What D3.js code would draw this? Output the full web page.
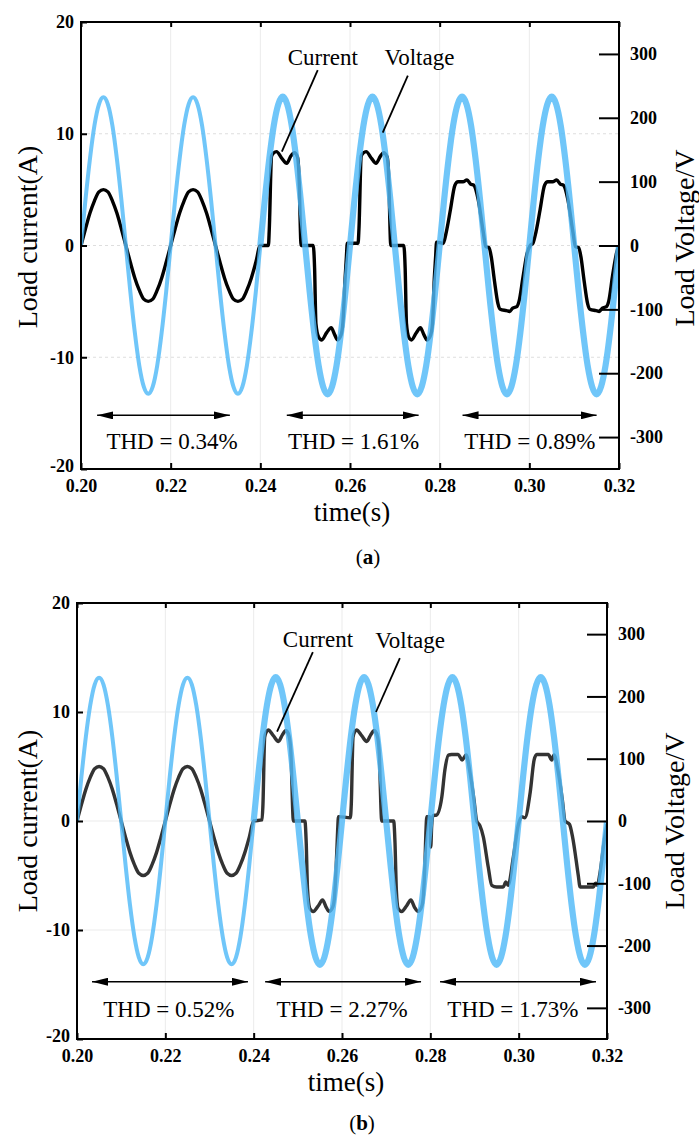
<!DOCTYPE html>
<html>
<head>
<meta charset="utf-8">
<script src="https://cdn.jsdelivr.net/npm/d3@7"></script>
<style>
  html, body { margin: 0; padding: 0; background: #fff; }
  svg { display: block; }
</style>
</head>
<body>
<svg id="chart" width="699" height="1135"></svg>
<script>
// ---------- data ----------
// scope sample grid for the voltage traces: 1 ms steps, 0.200 s .. 0.320 s
const sampleTimes = d3.range(121).map(i => +(0.2 + i * 0.001).toFixed(3));

// load voltage (V), case (a)
const voltageA = [
  0, 72, 136, 188, 221, 232, 221, 188, 136, 72, 0, -72, -136, -188, -221, -232, -221, -188, -136, -72,
  0, 72, 136, 188, 221, 232, 221, 188, 136, 72, 0, -72, -136, -188, -221, -232, -221, -188, -136, -72,
  0, 72, 136, 188, 221, 233, 221, 188, 136, 72, 0, -72, -136, -188, -221, -233, -221, -188, -136, -72,
  0, 72, 136, 188, 221, 233, 221, 188, 136, 72, 0, -72, -136, -188, -221, -233, -221, -188, -136, -72,
  0, 72, 136, 188, 221, 233, 221, 188, 136, 72, 0, -72, -136, -188, -221, -233, -221, -188, -136, -72,
  0, 72, 136, 188, 221, 233, 221, 188, 136, 72, 0, -72, -136, -188, -221, -233, -221, -188, -136, -72,
  0
];

// load voltage (V), case (b)
const voltageB = [
  0, 71, 135, 186, 219, 230, 219, 186, 135, 71, 0, -71, -135, -186, -219, -230, -219, -186, -135, -71,
  0, 71, 135, 186, 219, 230, 219, 186, 135, 71, 0, -71, -135, -186, -219, -230, -219, -186, -135, -71,
  0, 71, 135, 186, 219, 231, 219, 186, 135, 71, 0, -71, -135, -186, -219, -231, -219, -186, -135, -71,
  0, 71, 135, 186, 219, 231, 219, 186, 135, 71, 0, -71, -135, -186, -219, -231, -219, -186, -135, -71,
  0, 71, 135, 186, 219, 231, 219, 186, 135, 71, 0, -71, -135, -186, -219, -231, -219, -186, -135, -71,
  0, 71, 135, 186, 219, 231, 219, 186, 135, 71, 0, -71, -135, -186, -219, -231, -219, -186, -135, -71,
  0
];

// load current (A), case (a): [time s, current A]
const currentA = [
  [0.200, 0], [0.201, 1.5], [0.202, 2.9], [0.203, 4.0], [0.204, 4.8], [0.205, 5.0], [0.206, 4.8], [0.207, 4.0],
  [0.208, 2.9], [0.209, 1.5], [0.210, 0], [0.211, -1.5], [0.212, -2.9], [0.213, -4.0], [0.214, -4.8], [0.215, -5.0],
  [0.216, -4.8], [0.217, -4.0], [0.218, -2.9], [0.219, -1.5], [0.220, 0], [0.221, 1.5], [0.222, 2.9], [0.223, 4.0],
  [0.224, 4.8], [0.225, 5.0], [0.226, 4.8], [0.227, 4.0], [0.228, 2.9], [0.229, 1.5], [0.230, 0], [0.231, -1.5],
  [0.232, -2.9], [0.233, -4.0], [0.234, -4.8], [0.235, -5.0], [0.236, -4.8], [0.237, -4.0], [0.238, -2.9], [0.239, -1.5],
  [0.2400, 0], [0.2418, 0], [0.2420, 1.5], [0.2425, 8.0], [0.2430, 8.3], [0.2436, 8.4], [0.2448, 7.8], [0.2459, 7.35],
  [0.2468, 8.0], [0.2476, 8.3], [0.2483, 7.9], [0.2486, 6.5], [0.2491, 0], [0.2518, 0], [0.2521, -2.0], [0.2524, -7.0],
  [0.2530, -8.2], [0.2537, -8.45], [0.2548, -7.8], [0.2558, -7.35], [0.2566, -8.0], [0.2572, -8.45], [0.2580, -8.0], [0.2584, -7.0],
  [0.2589, -3.0], [0.2592, -1.0], [0.2594, 0.2], [0.2618, 0.2], [0.2620, 1.5], [0.2625, 8.0], [0.2630, 8.3], [0.2636, 8.4],
  [0.2648, 7.8], [0.2658, 7.35], [0.2668, 8.0], [0.2675, 8.3], [0.2683, 7.9], [0.2686, 6.5], [0.2691, 0], [0.2720, 0],
  [0.2723, -2.0], [0.2726, -7.0], [0.2731, -8.2], [0.2737, -8.45], [0.2748, -7.8], [0.2757, -7.35], [0.2765, -8.0], [0.2772, -8.45],
  [0.2780, -8.0], [0.2784, -7.0], [0.2788, -3.0], [0.2791, -1.0], [0.2793, 0.3], [0.2808, 0.2], [0.2815, 1.25], [0.2824, 3.2],
  [0.2834, 5.4], [0.2841, 5.7], [0.2852, 5.7], [0.2861, 5.87], [0.2869, 5.5], [0.2876, 5.4], [0.2886, 4.1], [0.2897, 1.25],
  [0.2903, -0.1], [0.2910, -0.2], [0.2915, -1.0], [0.2922, -3.1], [0.2930, -5.2], [0.2935, -5.7], [0.2949, -5.83], [0.2956, -5.9],
  [0.2963, -5.6], [0.2972, -5.47], [0.2977, -5.0], [0.2986, -2.8], [0.2995, -0.7], [0.3002, 0], [0.3008, 0.2], [0.3015, 1.25],
  [0.3024, 3.2], [0.3034, 5.4], [0.3041, 5.7], [0.3052, 5.7], [0.3061, 5.87], [0.3069, 5.5], [0.3076, 5.4], [0.3086, 4.1],
  [0.3097, 1.25], [0.3103, -0.1], [0.3110, -0.2], [0.3115, -1.0], [0.3122, -3.1], [0.3130, -5.2], [0.3135, -5.7], [0.3149, -5.83],
  [0.3156, -5.9], [0.3163, -5.6], [0.3172, -5.47], [0.3177, -5.0], [0.3186, -2.6], [0.3195, -0.6], [0.3200, 0]
];

// load current (A), case (b): [time s, current A]
const currentB = [
  [0.200, 0], [0.201, 1.5], [0.202, 2.9], [0.203, 4.0], [0.204, 4.8], [0.205, 5.0], [0.206, 4.8], [0.207, 4.0],
  [0.208, 2.9], [0.209, 1.5], [0.210, 0], [0.211, -1.5], [0.212, -2.9], [0.213, -4.0], [0.214, -4.8], [0.215, -5.0],
  [0.216, -4.8], [0.217, -4.0], [0.218, -2.9], [0.219, -1.5], [0.220, 0], [0.221, 1.5], [0.222, 2.9], [0.223, 4.0],
  [0.224, 4.8], [0.225, 5.0], [0.226, 4.8], [0.227, 4.0], [0.228, 2.9], [0.229, 1.5], [0.230, 0], [0.231, -1.5],
  [0.232, -2.9], [0.233, -4.0], [0.234, -4.8], [0.235, -5.0], [0.236, -4.8], [0.237, -4.0], [0.238, -2.9], [0.239, -1.5],
  [0.2400, 0], [0.2419, 0.1], [0.2421, 1.5], [0.2425, 7.7], [0.2429, 8.2], [0.2433, 8.35], [0.2445, 7.8], [0.2456, 7.3],
  [0.2465, 7.9], [0.2473, 8.3], [0.2480, 7.8], [0.2484, 6.5], [0.2490, 0], [0.2516, 0], [0.2519, -2.0], [0.2522, -6.3],
  [0.2527, -8.0], [0.2535, -8.3], [0.2546, -7.8], [0.2556, -7.25], [0.2564, -7.9], [0.2571, -8.3], [0.2579, -7.9], [0.2583, -7.0],
  [0.2588, -3.0], [0.2590, -1.0], [0.2592, 0.4], [0.2619, 0.3], [0.2621, 1.5], [0.2625, 7.7], [0.2629, 8.2], [0.2633, 8.35],
  [0.2645, 7.8], [0.2656, 7.3], [0.2665, 7.9], [0.2673, 8.3], [0.2680, 7.8], [0.2684, 6.5], [0.2690, 0], [0.2717, 0],
  [0.2720, -2.0], [0.2723, -6.3], [0.2727, -8.0], [0.2735, -8.3], [0.2746, -7.8], [0.2756, -7.25], [0.2764, -7.9], [0.2772, -8.3],
  [0.2780, -7.9], [0.2784, -7.0], [0.2788, -3.6], [0.2790, -1.0], [0.2792, 0.4], [0.2799, 0.4], [0.2801, -2.4], [0.2803, -0.5],
  [0.2806, 0.5], [0.2814, 0.55], [0.2826, 2.2], [0.2833, 4.7], [0.2841, 6.05], [0.2848, 6.1], [0.2863, 6.1], [0.2872, 5.6],
  [0.2881, 6.05], [0.2890, 4.4], [0.2899, 1.9], [0.2905, 0], [0.2912, -0.4], [0.2920, -1.45], [0.2931, -4.2], [0.2939, -5.9],
  [0.2950, -6.05], [0.2965, -6.05], [0.2971, -5.6], [0.2976, -5.9], [0.2988, -3.3], [0.2999, -0.4], [0.3007, 0.4], [0.3014, 0.3],
  [0.3026, 2.6], [0.3035, 5.6], [0.3041, 6.1], [0.3067, 6.1], [0.3075, 5.6], [0.3080, 6.05], [0.3090, 4.4], [0.3099, 1.9],
  [0.3105, 0], [0.3115, -0.3], [0.3122, -1.45], [0.3135, -5.0], [0.3139, -6.05], [0.3169, -6.05], [0.3174, -5.7], [0.3178, -5.9],
  [0.3184, -4.8], [0.3195, -1.45], [0.3200, -0.3]
];

// axis ticks
const timeTicks = [0.20, 0.22, 0.24, 0.26, 0.28, 0.30, 0.32];
const timeTickLabels = ["0.20", "0.22", "0.24", "0.26", "0.28", "0.30", "0.32"];
const currentTicks = [-20, -10, 0, 10, 20];
const currentTickLabels = ["-20", "-10", "0", "10", "20"];
const voltageTicks = [-300, -200, -100, 0, 100, 200, 300];
const voltageTickLabels = ["-300", "-200", "-100", "0", "100", "200", "300"];

// THD readings per interval
const thdLabelsA = ["THD = 0.34%", "THD = 1.61%", "THD = 0.89%"];
const thdLabelsB = ["THD = 0.52%", "THD = 2.27%", "THD = 1.73%"];

// ---------- layout ----------
const SERIF = "'Liberation Serif', 'Times New Roman', Times, serif";
const BLUE = "rgb(80,185,248)";
const TICK_FONT = 18;

const panels = [
  {
    id: "a", box: { left: 81, right: 619, top: 22, bottom: 469 },
    voltage: voltageA, current: currentA, currentColor: "#000",
    hGridDash: "3,3", thd: thdLabelsA,
    spans: [[0.2036, 0.2332], [0.2459, 0.2753], [0.2851, 0.3150]], spanY: -15.2,
    thdX: [0.2203, 0.2608, 0.3001], thdY: -18.2,
    currentNote: { x: 0.2461, y: 16.15, from: [0.2528, 15.7], to: [0.2448, 8.4] },
    voltageNote: { x: 0.2677, y: 16.15, from: [0.2729, 15.2], to: [0.2673, 10.1] },
    timeTitle: [352, 520.5], leftTitle: [36.5, 237], rightTitle: [693.5, 238],
    caption: [368, 564]
  },
  {
    id: "b", box: { left: 77, right: 607, top: 603, bottom: 1039 },
    voltage: voltageB, current: currentB, currentColor: "#333",
    hGridDash: null, thd: thdLabelsB,
    spans: [[0.2034, 0.2387], [0.2426, 0.2779], [0.2822, 0.3175]], spanY: -14.75,
    thdX: [0.2208, 0.2600, 0.2987], thdY: -18.0,
    currentNote: { x: 0.2466, y: 15.95, from: [0.2534, 15.5], to: [0.2453, 8.2] },
    voltageNote: { x: 0.2675, y: 15.9, from: [0.2731, 14.95], to: [0.2677, 10.0] },
    timeTitle: [346, 1090.5], leftTitle: [37, 821], rightTitle: [683.5, 821],
    caption: [362, 1130]
  }
];

const svg = d3.select("#chart");
const defs = svg.append("defs");

// filled arrow heads
["start", "end"].forEach(kind => {
  defs.append("marker")
    .attr("id", "arrow-" + kind)
    .attr("viewBox", "0 0 16 8")
    .attr("refX", kind === "end" ? 16 : 0).attr("refY", 4)
    .attr("markerWidth", 16).attr("markerHeight", 8)
    .attr("markerUnits", "userSpaceOnUse")
    .attr("orient", "auto")
    .append("path")
    .attr("d", kind === "end" ? "M0,0 L16,4 L0,8 Z" : "M16,0 L0,4 L16,8 Z")
    .attr("fill", "#000");
});

function drawPanel(p) {
  const b = p.box;
  const x = d3.scaleLinear().domain([0.20, 0.32]).range([b.left, b.right]);
  const yI = d3.scaleLinear().domain([-20, 20]).range([b.bottom, b.top]);
  const yV = d3.scaleLinear().domain([-350, 350]).range([b.bottom, b.top]);

  const g = svg.append("g").attr("class", "panel-" + p.id);

  defs.append("clipPath").attr("id", "clip-" + p.id)
    .append("rect")
    .attr("x", b.left).attr("y", b.top)
    .attr("width", b.right - b.left).attr("height", b.bottom - b.top);

  // grid
  const grid = g.append("g").attr("class", "grid");
  grid.selectAll("line.v").data(timeTicks.slice(1, -1)).join("line")
    .attr("class", "v")
    .attr("x1", d => x(d)).attr("x2", d => x(d))
    .attr("y1", b.top).attr("y2", b.bottom)
    .attr("stroke", "#ebebeb").attr("stroke-width", 1);
  grid.selectAll("line.h").data(currentTicks.slice(1, -1)).join("line")
    .attr("class", "h")
    .attr("x1", b.left).attr("x2", b.right)
    .attr("y1", d => yI(d)).attr("y2", d => yI(d))
    .attr("stroke", p.hGridDash ? "#dedede" : "#ebebeb")
    .attr("stroke-dasharray", p.hGridDash)
    .attr("stroke-width", 1);

  const plot = g.append("g").attr("clip-path", `url(#clip-${p.id})`);

  // current trace
  const lineI = d3.line()
    .x(d => x(d[0])).y(d => yI(d[1]))
    .curve(d3.curveMonotoneX);
  plot.append("path")
    .datum(p.current)
    .attr("d", lineI)
    .attr("fill", "none")
    .attr("stroke", p.currentColor)
    .attr("stroke-width", 3.4)
    .attr("stroke-linejoin", "round");

  // voltage trace: thin before the load change at 0.24 s, broader ripple band after it
  const vPts = sampleTimes.map((t, i) => [t, p.voltage[i]]);
  const lineV = d3.line()
    .x(d => x(d[0])).y(d => yV(d[1]))
    .curve(d3.curveMonotoneX);
  plot.append("path")
    .datum(vPts.filter(d => d[0] <= 0.2405))
    .attr("d", lineV)
    .attr("fill", "none")
    .attr("stroke", BLUE).attr("stroke-opacity", 0.82)
    .attr("stroke-width", 4);
  plot.append("path")
    .datum(vPts.filter(d => d[0] >= 0.2395))
    .attr("d", lineV)
    .attr("fill", "none")
    .attr("stroke", BLUE).attr("stroke-opacity", 0.82)
    .attr("stroke-width", 6.2);

  // frame
  g.append("rect")
    .attr("x", b.left).attr("y", b.top)
    .attr("width", b.right - b.left).attr("height", b.bottom - b.top)
    .attr("fill", "none").attr("stroke", "#000").attr("stroke-width", 2);

  const tickFont = sel => sel.selectAll("text")
    .attr("font-family", SERIF).attr("font-weight", "bold")
    .attr("font-size", TICK_FONT).attr("fill", "#000");

  // axes (ticks point into the plot)
  const axB = g.append("g").attr("transform", `translate(0,${b.bottom})`)
    .call(d3.axisBottom(x).tickValues(timeTicks)
      .tickFormat((d, i) => timeTickLabels[i]).tickSize(-6).tickPadding(10));
  const axT = g.append("g").attr("transform", `translate(0,${b.top})`)
    .call(d3.axisTop(x).tickValues(timeTicks).tickFormat("").tickSize(-5));
  const axL = g.append("g").attr("transform", `translate(${b.left},0)`)
    .call(d3.axisLeft(yI).tickValues(currentTicks)
      .tickFormat((d, i) => currentTickLabels[i]).tickSize(-6).tickPadding(7));
  const axR = g.append("g").attr("transform", `translate(${b.right},0)`)
    .call(d3.axisRight(yV).tickValues(voltageTicks)
      .tickFormat((d, i) => voltageTickLabels[i]).tickSize(-20).tickPadding(11));
  [axB, axT, axL, axR].forEach(a => {
    a.select(".domain").remove();
    a.selectAll(".tick line").attr("stroke", "#000").attr("stroke-width", 2);
    tickFont(a);
  });
  // lowest current label sits a little above its tick, clear of the corner time label
  axL.selectAll(".tick").filter(d => d === -20).select("text").attr("dy", "0.14em");

  // axis titles
  g.append("text")
    .attr("x", p.timeTitle[0]).attr("y", p.timeTitle[1])
    .attr("text-anchor", "middle")
    .attr("font-family", SERIF).attr("font-size", 27)
    .text("time(s)");
  g.append("text")
    .attr("transform", `translate(${p.leftTitle[0]},${p.leftTitle[1]}) rotate(-90)`)
    .attr("text-anchor", "middle")
    .attr("font-family", SERIF).attr("font-size", 28)
    .text("Load current(A)");
  g.append("text")
    .attr("transform", `translate(${p.rightTitle[0]},${p.rightTitle[1]}) rotate(-90)`)
    .attr("text-anchor", "middle")
    .attr("font-family", SERIF).attr("font-size", 28)
    .text("Load Voltage/V");

  // THD intervals
  const ann = g.append("g").attr("class", "annotations");
  p.spans.forEach((s, i) => {
    ann.append("line")
      .attr("x1", x(s[0])).attr("x2", x(s[1]))
      .attr("y1", yI(p.spanY)).attr("y2", yI(p.spanY))
      .attr("stroke", "#000").attr("stroke-width", 1.5)
      .attr("marker-start", "url(#arrow-start)")
      .attr("marker-end", "url(#arrow-end)");
    ann.append("text")
      .attr("x", x(p.thdX[i])).attr("y", yI(p.thdY))
      .attr("text-anchor", "middle")
      .attr("font-family", SERIF).attr("font-size", 23)
      .text(p.thd[i]);
  });

  // trace callouts
  [[p.currentNote, "Current"], [p.voltageNote, "Voltage"]].forEach(([n, label]) => {
    ann.append("text")
      .attr("x", x(n.x)).attr("y", yI(n.y))
      .attr("font-family", SERIF).attr("font-size", 23)
      .text(label);
    ann.append("line")
      .attr("x1", x(n.from[0])).attr("y1", yI(n.from[1]))
      .attr("x2", x(n.to[0])).attr("y2", yI(n.to[1]))
      .attr("stroke", "#000").attr("stroke-width", 1.8);
  });

  // sub-figure caption
  const cap = g.append("text")
    .attr("x", p.caption[0]).attr("y", p.caption[1])
    .attr("text-anchor", "middle")
    .attr("font-family", SERIF).attr("font-size", 21);
  cap.append("tspan").text("(");
  cap.append("tspan").attr("font-weight", "bold").text(p.id);
  cap.append("tspan").text(")");
}

panels.forEach(drawPanel);
</script>
</body>
</html>
